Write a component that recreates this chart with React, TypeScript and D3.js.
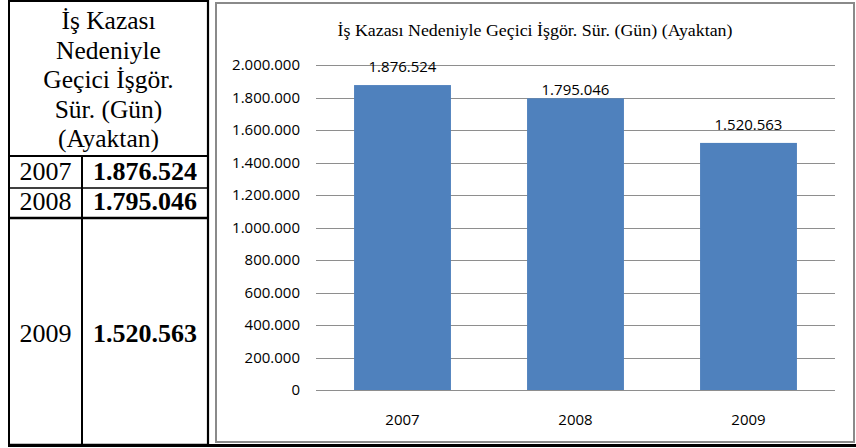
import * as d3 from 'd3';

// table + chart data
const YEARS = ['2007', '2008', '2009'];
const VALUES = [1876524, 1795046, 1520563];
const HEADER_LINES = ['İş Kazası', 'Nedeniyle', 'Geçici İşgör.', 'Sür. (Gün)', '(Ayaktan)'];
const Y_TICKS = [0, 200000, 400000, 600000, 800000, 1000000, 1200000, 1400000, 1600000, 1800000, 2000000];
const CHART_TITLE = 'İş Kazası Nedeniyle  Geçici İşgör. Sür. (Gün) (Ayaktan)';

// Turkish number formatting: dots as thousands separator
const trFormat = d3.formatLocale({ decimal: ',', thousands: '.', grouping: [3], currency: ['', ''] }).format(',d');

const SERIF = '"Liberation Serif", "Times New Roman", serif';
const SANS = '"Open Sans", "Liberation Sans", sans-serif';
const BAR_COLOR = '#4f81bd';
const GRID_COLOR = '#8e8e8e';
const FRAME_COLOR = '#8a8a8a';

// label lift above bar top (Excel nudged the middle label down)
const LABEL_LIFT = [13, 3, 13];

function DataTable() {
  const left = 9;
  const right = 208;
  const colSplit = 82;
  const headerBottom = 156;
  const rowBottoms = [188, 218, 445];
  const rowTops = [headerBottom, 188, 218];
  const baselines = [180, 210, 342];

  return (
    <g>
      {/* header */}
      {HEADER_LINES.map((line, i) => (
        <text
          key={line}
          x={(left + right) / 2}
          y={29 + i * 29.6}
          textAnchor="middle"
          fontFamily={SERIF}
          fontSize={25.5}
          fill="#000"
        >
          {line}
        </text>
      ))}
      {YEARS.map((year, i) => (
        <g key={year}>
          <text
            x={(left + colSplit) / 2}
            y={baselines[i]}
            textAnchor="middle"
            fontFamily={SERIF}
            fontSize={26}
            fill="#000"
          >
            {year}
          </text>
          <text
            x={(colSplit + right) / 2}
            y={baselines[i]}
            textAnchor="middle"
            fontFamily={SERIF}
            fontWeight="bold"
            fontSize={26}
            fill="#000"
          >
            {trFormat(VALUES[i])}
          </text>
          <line x1={left} x2={right} y1={rowBottoms[i]} y2={rowBottoms[i]} stroke="#000" strokeWidth={i === 0 ? 1.6 : 2.6} />
          <line x1={colSplit} x2={colSplit} y1={rowTops[i]} y2={rowBottoms[i]} stroke="#000" strokeWidth={2} />
        </g>
      ))}
      {/* borders */}
      <line x1={left} x2={right} y1={headerBottom} y2={headerBottom} stroke="#000" strokeWidth={2} />
      <line x1={left - 1} x2={right + 1} y1={1} y2={1} stroke="#000" strokeWidth={2} />
      <line x1={left} x2={left} y1={0} y2={446} stroke="#000" strokeWidth={2} />
      <line x1={right} x2={right} y1={0} y2={446} stroke="#000" strokeWidth={2.2} />
      <line x1={left - 1} x2={856} y1={445.5} y2={445.5} stroke="#000" strokeWidth={3} />
    </g>
  );
}

function BarChart() {
  const frame = { x: 216, y: 3, w: 638, h: 439 };
  const plot = { left: 316, right: 835, top: 65, bottom: 390 };

  const x = d3
    .scaleBand<string>()
    .domain(YEARS)
    .range([plot.left, plot.right])
    .paddingInner(0.44)
    .paddingOuter(0.22);

  const y = d3.scaleLinear().domain([0, 2000000]).range([plot.bottom, plot.top]);

  return (
    <g>
      <rect x={frame.x} y={frame.y} width={frame.w} height={frame.h} fill="#fff" stroke={FRAME_COLOR} strokeWidth={2} />
      <text
        x={frame.x + frame.w / 2}
        y={36}
        textAnchor="middle"
        fontFamily={SERIF}
        fontSize={16}
        textLength={395}
        lengthAdjust="spacingAndGlyphs"
        fill="#000"
      >
        {CHART_TITLE}
      </text>

      {/* gridlines + y labels */}
      {Y_TICKS.map((t) => (
        <g key={t}>
          <line x1={plot.left} x2={plot.right} y1={Math.round(y(t)) + 0.5} y2={Math.round(y(t)) + 0.5} stroke={GRID_COLOR} strokeWidth={1} />
          <text
            x={300}
            y={y(t)}
            dy="0.36em"
            textAnchor="end"
            fontFamily={SANS}
            fontSize={15}
            fill="#000"
          >
            {trFormat(t)}
          </text>
        </g>
      ))}

      {/* bars */}
      {YEARS.map((year, i) => (
        <rect
          key={year}
          x={x(year)}
          y={y(VALUES[i])}
          width={x.bandwidth()}
          height={y(0) - y(VALUES[i])}
          fill={BAR_COLOR}
        />
      ))}

      {/* value labels */}
      {YEARS.map((year, i) => (
        <text
          key={year}
          x={(x(year) ?? 0) + x.bandwidth() / 2}
          y={y(VALUES[i]) - LABEL_LIFT[i]}
          textAnchor="middle"
          fontFamily={SANS}
          fontSize={15}
          fill="#000"
        >
          {trFormat(VALUES[i])}
        </text>
      ))}

      {/* x labels */}
      {YEARS.map((year) => (
        <text
          key={year}
          x={(x(year) ?? 0) + x.bandwidth() / 2}
          y={425}
          textAnchor="middle"
          fontFamily={SANS}
          fontSize={15}
          fill="#000"
        >
          {year}
        </text>
      ))}
    </g>
  );
}

export default function App() {
  return (
    <svg
      width={856}
      height={448}
      style={{ position: 'absolute', left: 0, top: 0, background: '#fff' }}
    >
      <rect width={856} height={448} fill="#fff" />
      <DataTable />
      <BarChart />
    </svg>
  );
}
